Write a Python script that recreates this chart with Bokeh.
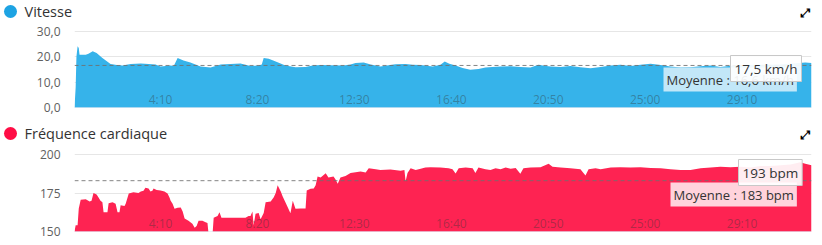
from bokeh.plotting import figure
from bokeh.models import Label, Span, FixedTicker, Range1d, ColumnDataSource
from bokeh.layouts import column
from bokeh.embed import file_html
from bokeh.resources import INLINE
from bokeh.core.properties import value

FONT = "Open Sans"

# ---- time axis (seconds) ----
time_ticks = [250, 500, 750, 1000, 1250, 1500, 1750]
time_labels = ["4:10", "8:20", "12:30", "16:40", "20:50", "25:00", "29:10"]

# ---- speed (km/h) ----
speed_t = [
    28, 31, 33, 36, 39, 41, 57, 64, 75, 85,
    100, 121, 137, 152, 173, 199, 219, 237, 250, 263,
    276, 284, 294, 309, 327, 353, 379, 405, 430, 456,
    482, 503, 511, 516, 529, 547, 572, 598, 624, 642,
    663, 688, 722, 740, 753, 774, 792, 817, 838, 856,
    882, 900, 921, 952, 972, 983, 995, 1011, 1029, 1049,
    1070, 1088, 1106, 1127, 1153, 1178, 1204, 1225, 1240, 1256,
    1282, 1307, 1333, 1359, 1385, 1411, 1436, 1462, 1488, 1514,
    1540, 1565, 1591, 1617, 1643, 1669, 1694, 1715, 1746, 1797,
    1849, 1888, 1913, 1929,
]
speed_v = [
    0, 8, 20, 24.2, 23.5, 20.8, 20.8, 21.2, 22.2, 21.5,
    19.5, 17.2, 16.8, 16.6, 17.2, 17.4, 17.2, 17.0, 16.2, 16.4,
    16.6, 16.4, 19.5, 18.6, 17.8, 16.2, 15.8, 17.0, 17.2, 17.4,
    16.4, 16.6, 17.0, 19.5, 19.2, 18.2, 16.6, 15.9, 16.0, 16.6,
    16.8, 16.7, 16.6, 17.0, 17.6, 17.8, 17.0, 16.2, 16.7, 17.1,
    17.2, 16.9, 16.8, 16.2, 16.9, 18.2, 17.3, 16.6, 15.6, 14.9,
    15.2, 15.8, 16.0, 16.2, 16.3, 16.0, 15.8, 16.9, 16.5, 16.2,
    16.0, 16.4, 15.9, 15.5, 16.0, 16.6, 16.9, 16.4, 16.9, 17.3,
    16.8, 16.2, 15.8, 15.9, 16.3, 16.6, 16.0, 16.4, 16.8, 16.9,
    17.0, 17.5, 17.8, 17.6,
]
speed_ticks = [0, 10, 20, 30]
speed_tick_labels = ["0,0", "10,0", "20,0", "30,0"]
speed_mean = 16.6
speed_title = "Vitesse"
speed_mean_text = "Moyenne : 16,6 km/h"
speed_point_text = "17,5 km/h"

# ---- heart rate (bpm) ----
hr_t = [
    28, 31, 36, 39, 44, 57, 67, 72, 77, 85,
    90, 95, 100, 103, 113, 116, 126, 134, 139, 144,
    147, 157, 160, 168, 180, 193, 199, 206, 211, 219,
    224, 229, 232, 240, 250, 260, 268, 273, 276, 281,
    286, 294, 302, 307, 312, 322, 327, 332, 338, 343,
    348, 358, 366, 371, 374, 384, 387, 397, 402, 407,
    436, 456, 469, 477, 482, 487, 490, 495, 503, 508,
    516, 521, 534, 542, 547, 552, 560, 565, 572, 578,
    585, 591, 598, 611, 624, 627, 637, 645, 650, 655,
    663, 676, 683, 696, 701, 707, 714, 727, 740, 753,
    766, 779, 787, 805, 817, 843, 869, 879, 882, 887,
    895, 908, 921, 933, 946, 972, 993, 1003, 1011, 1019,
    1037, 1055, 1062, 1070, 1088, 1101, 1114, 1127, 1140, 1153,
    1166, 1178, 1186, 1204, 1230, 1251, 1261, 1282, 1307, 1333,
    1346, 1354, 1372, 1385, 1411, 1436, 1462, 1488, 1514, 1540,
    1565, 1591, 1617, 1643, 1669, 1694, 1720, 1746, 1772, 1797,
    1823, 1849, 1875, 1900, 1913, 1929,
]
hr_v = [
    150, 154, 154, 165, 170.6, 171, 169.5, 170, 175, 174,
    172, 170, 169, 162.5, 162.5, 168.4, 169, 168, 162.5, 162.5,
    167, 166.5, 168, 174.6, 175.5, 175, 176, 176.5, 178.4, 178,
    176, 176.5, 178, 177, 176.6, 176, 174.7, 172, 170, 168,
    164.7, 165.5, 165.6, 163, 158.4, 157, 156, 155, 152.4, 153.5,
    157, 157, 156, 155.5, 148, 148, 159, 160, 162.5, 159,
    159, 159, 159, 160, 160, 163, 154, 161.6, 162, 158,
    162, 169, 169.5, 172.3, 175, 180, 176, 172.7, 169, 165.8,
    161.9, 170, 164.7, 165, 165, 176.6, 177.7, 178, 180, 185.7,
    185, 187.9, 185, 185.7, 184, 181, 185, 186, 188, 188.5,
    189, 188.3, 191, 190.5, 190, 190.2, 189.5, 190, 182.6, 188,
    191, 190, 190.7, 191.5, 191.8, 191.6, 191, 190.5, 187.7, 191,
    191.5, 191, 188, 191.5, 190.5, 190, 191, 190.5, 191.5, 190.8,
    191.2, 187.5, 191, 191.5, 191.7, 194, 192, 191.5, 191, 190.5,
    186.4, 190.5, 191, 190.5, 191.5, 191.8, 191.5, 191.8, 191.2, 191,
    190.5, 190, 190, 191, 191.5, 192, 191.8, 192, 191.5, 192.5,
    192.5, 193, 193.5, 195, 194, 193,
]
hr_ticks = [150, 175, 200]
hr_tick_labels = ["150", "175", "200"]
hr_mean = 183
hr_title = "Fréquence cardiaque"
hr_mean_text = "Moyenne : 183 bpm"
hr_point_text = "193 bpm"

assert len(speed_t) == len(speed_v)
assert len(hr_t) == len(hr_v)


def title_row(height, cy, title, dot_color):
    t = figure(width=822, height=height, x_range=Range1d(0, 822),
               y_range=Range1d(height, 0), output_backend="svg",
               toolbar_location=None, x_axis_type=None, y_axis_type=None,
               min_border=0)
    t.frame_align = False
    t.outline_line_color = None
    t.xgrid.visible = False
    t.ygrid.visible = False
    t.scatter(x=[10], y=[cy], size=13, marker="circle", fill_color=dot_color,
              line_color=None)
    t.text(x=[24], y=[cy], text=[title], text_font=value(FONT),
           text_font_size="14.5px", text_color="#333333",
           text_baseline="middle", text_align="left")
    t.text(x=[805], y=[cy + 1], text=["\u2922"], text_font=value("DejaVu Sans"),
           text_font_size="12px", text_font_style="bold", text_color="black",
           text_baseline="middle", text_align="center")
    return t


def panel(height, top, bottom, y_lo, y_hi, ticks, tick_labels, t, v, color,
          mean, mean_text, mean_bg, point_text, mean_pos, point_pos):
    p = figure(width=822, height=height, x_range=Range1d(28, 1929),
               y_range=Range1d(y_lo, y_hi), output_backend="svg",
               toolbar_location=None, x_axis_type=None,
               min_border_left=74, min_border_right=11,
               min_border_top=top, min_border_bottom=bottom)
    p.frame_align = False
    p.outline_line_color = None
    p.background_fill_color = "white"
    p.border_fill_color = "white"

    ax = p.yaxis[0]
    ax.ticker = FixedTicker(ticks=ticks)
    ax.major_label_overrides = {k: s for k, s in zip(ticks, tick_labels)}
    ax.axis_line_color = None
    ax.major_tick_line_color = None
    ax.minor_tick_line_color = None
    ax.major_label_text_font = FONT
    ax.major_label_text_font_size = "12px"
    ax.major_label_text_color = "#606060"
    ax.major_label_standoff = 8
    p.ygrid.ticker = FixedTicker(ticks=ticks)
    p.ygrid.grid_line_color = "#e6e6e6"

    src = ColumnDataSource(dict(t=t, v=v))
    p.varea(x="t", y1=y_lo - 1000, y2="v", source=src, fill_color=color)

    p.add_layout(Span(location=y_lo, dimension="width", line_color="#ccd6eb",
                      line_alpha=0.8, line_width=1))
    p.add_layout(Span(location=mean, dimension="width", line_color="#707070",
                      line_alpha=0.85, line_dash="4 3", line_width=1))

    p.text(x=time_ticks, y=[y_lo] * len(time_ticks), text=time_labels,
           text_font=value(FONT), text_font_size="12px", text_color="#333333",
           text_alpha=0.4, text_align="center", text_baseline="middle",
           y_offset=-8)

    p.add_layout(Label(x=mean_pos[0], y=mean_pos[1], x_units="screen",
                       y_units="screen", text=mean_text, text_color="#333333",
                       text_font=FONT, text_font_size="13px",
                       text_baseline="middle", text_align="left",
                       background_fill_color=mean_bg, background_fill_alpha=1.0,
                       padding=3))
    p.add_layout(Label(x=point_pos[0], y=point_pos[1], x_units="screen",
                       y_units="screen", text=point_text, text_color="#333333",
                       text_font=FONT, text_font_size="13.5px",
                       text_baseline="middle", text_align="left",
                       background_fill_color="white", background_fill_alpha=0.92,
                       border_line_color="#c8c8c8", border_line_width=1,
                       padding=4))
    return p


# figure 1: title row 0-20, chart 20-120 (frame 30..107)
t1 = title_row(20, 11, speed_title, "#1da3e3")
p1 = panel(100, 10, 13, 0, 30.4, speed_ticks, speed_tick_labels, speed_t,
           speed_v, "#36b3ea", speed_mean, speed_mean_text, "#c2e7f8",
           speed_point_text, (589, 28), (656, 39))
# figure 2: title row 120-142, chart 142-245 (frame 153..231)
t2 = title_row(22, 13, hr_title, "#ff0d45")
p2 = panel(103, 11, 14, 150, 200.65, hr_ticks, hr_tick_labels, hr_t, hr_v,
           "#fe2352", hr_mean, hr_mean_text, "#ffd3dc", hr_point_text,
           (596, 37), (664, 59))

layout = column(t1, p1, t2, p2, spacing=0)
open("out.html", "w").write(file_html(layout, INLINE))
